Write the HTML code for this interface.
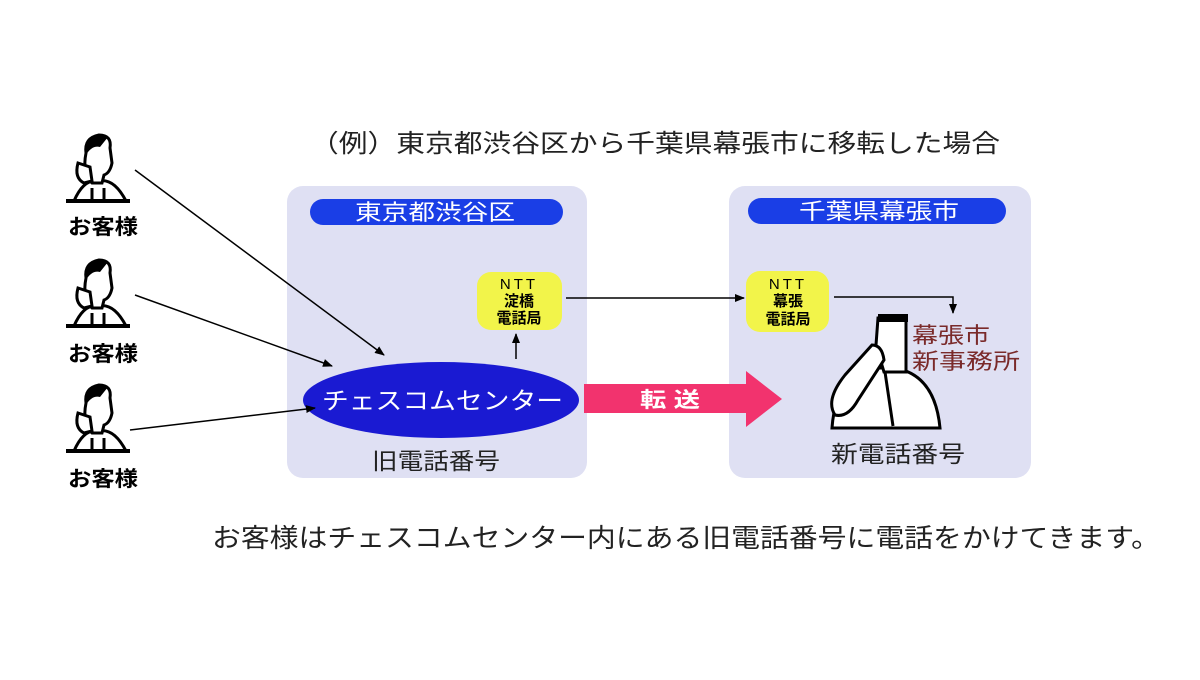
<!DOCTYPE html>
<html><head><meta charset="utf-8"><style>
body{margin:0;background:#fff;}
svg text{font-family:"Liberation Sans","Noto Sans CJK JP",sans-serif;}
</style></head><body>
<svg width="1200" height="675" viewBox="0 0 1200 675" xmlns="http://www.w3.org/2000/svg">
<defs>
<marker id="ah" markerWidth="10" markerHeight="10" refX="9" refY="5" orient="auto" markerUnits="userSpaceOnUse">
<path d="M0,1 L10,5 L0,9 Z" fill="#000"/></marker>
<g id="cust">
<path d="M10,68 Q20,45 35,48 Q50,45 62,68 Z" fill="#fff" stroke="#000" stroke-width="3"/>
<path d="M22,20 Q20,5 35,2 Q48,2 46,15 L48,30 Q46,40 40,42 L38,50 L28,50 Q18,40 22,20 Z" fill="#fff" stroke="#000" stroke-width="3"/>
<path d="M22,10 Q30,0 44,4 L36,14 Q28,12 22,22 Z" fill="#000"/>
<path d="M14,30 Q10,45 20,50 L28,48 L26,34 Z" fill="#fff" stroke="#000" stroke-width="3"/>
<line x1="28" y1="55" x2="28" y2="68" stroke="#000" stroke-width="3"/>
<line x1="40" y1="55" x2="40" y2="68" stroke="#000" stroke-width="3"/>
<rect x="2" y="66" width="64" height="4" fill="#000"/>
</g>
</defs>
<text x="310" y="152" font-size="25" textLength="690" lengthAdjust="spacingAndGlyphs" fill="#222">（例）東京都渋谷区から千葉県幕張市に移転した場合</text>
<use href="#cust" x="64" y="133"/>
<text x="68" y="234" font-size="21" font-weight="bold" textLength="70" lengthAdjust="spacingAndGlyphs">お客様</text>
<use href="#cust" x="64" y="258"/>
<text x="68" y="361" font-size="21" font-weight="bold" textLength="70" lengthAdjust="spacingAndGlyphs">お客様</text>
<use href="#cust" x="64" y="383"/>
<text x="68" y="486" font-size="21" font-weight="bold" textLength="70" lengthAdjust="spacingAndGlyphs">お客様</text>
<rect x="287" y="186" width="300" height="292" rx="16" fill="#dfe0f3"/>
<rect x="729" y="186" width="302" height="292" rx="16" fill="#dfe0f3"/>
<rect x="310" y="199" width="253" height="26" rx="13" fill="#1a3ee6"/>
<text x="355" y="220" font-size="22" textLength="160" lengthAdjust="spacingAndGlyphs" fill="#fff">東京都渋谷区</text>
<rect x="748" y="198" width="258" height="26" rx="13" fill="#1a3ee6"/>
<text x="799" y="219" font-size="22" textLength="160" lengthAdjust="spacingAndGlyphs" fill="#fff">千葉県幕張市</text>
<rect x="477" y="272" width="85" height="58" rx="14" fill="#f2f44a"/>
<text x="519" y="289" font-size="15" text-anchor="middle" letter-spacing="3">NTT</text>
<text x="519" y="306" font-size="15" text-anchor="middle" font-weight="bold">淀橋</text>
<text x="519" y="323" font-size="15" text-anchor="middle" font-weight="bold">電話局</text>
<rect x="746" y="271" width="83" height="61" rx="14" fill="#f2f44a"/>
<text x="788" y="289" font-size="15" text-anchor="middle" letter-spacing="3">NTT</text>
<text x="788" y="306" font-size="15" text-anchor="middle" font-weight="bold">幕張</text>
<text x="788" y="324" font-size="15" text-anchor="middle" font-weight="bold">電話局</text>
<ellipse cx="441" cy="400" rx="138" ry="38" fill="#1a1ad2"/>
<text x="322" y="409" font-size="24" textLength="241" lengthAdjust="spacingAndGlyphs" fill="#fff">チェスコムセンター</text>
<text x="372" y="469" font-size="23" textLength="128" lengthAdjust="spacingAndGlyphs" fill="#222">旧電話番号</text>
<path d="M584,384 L746,384 L746,371 L782,399 L746,427 L746,413 L584,413 Z" fill="#f2336e"/>
<text x="640" y="407" font-size="21" font-weight="bold" textLength="60" lengthAdjust="spacingAndGlyphs" fill="#fff">転 送</text>
<g stroke="#000" stroke-width="1.5" fill="none">
<line x1="135" y1="170" x2="384" y2="355" marker-end="url(#ah)"/>
<line x1="135" y1="295" x2="332" y2="366" marker-end="url(#ah)"/>
<line x1="130" y1="430" x2="315" y2="408" marker-end="url(#ah)"/>
<line x1="516" y1="359" x2="516" y2="334" marker-end="url(#ah)"/>
<line x1="566" y1="298" x2="744" y2="298" marker-end="url(#ah)"/>
<polyline points="834,297 953,297 953,313" marker-end="url(#ah)"/>
</g>
<g stroke="#000" stroke-width="3" fill="#fff">
<path d="M832,428 Q836,372 878,368 L895,368 Q935,375 940,428 Z"/>
<path d="M878,318 L906,318 L906,372 L884,372 L876,345 Z"/>
<path d="M835,415 Q825,400 845,375 L872,345 Q882,345 884,360 L858,400 Q848,418 835,415 Z"/>
<line x1="885" y1="372" x2="893" y2="426"/>
</g>
<rect x="878" y="314" width="30" height="8" fill="#000"/>
<text x="912" y="343" font-size="22" textLength="78" lengthAdjust="spacingAndGlyphs" fill="#7a2a2a">幕張市</text>
<text x="912" y="369" font-size="22" textLength="108" lengthAdjust="spacingAndGlyphs" fill="#7a2a2a">新事務所</text>
<text x="831" y="462" font-size="23" textLength="134" lengthAdjust="spacingAndGlyphs" fill="#222">新電話番号</text>
<text x="212" y="547" font-size="26" textLength="948" lengthAdjust="spacingAndGlyphs" fill="#222">お客様はチェスコムセンター内にある旧電話番号に電話をかけてきます。</text>
</svg>
</body></html>
